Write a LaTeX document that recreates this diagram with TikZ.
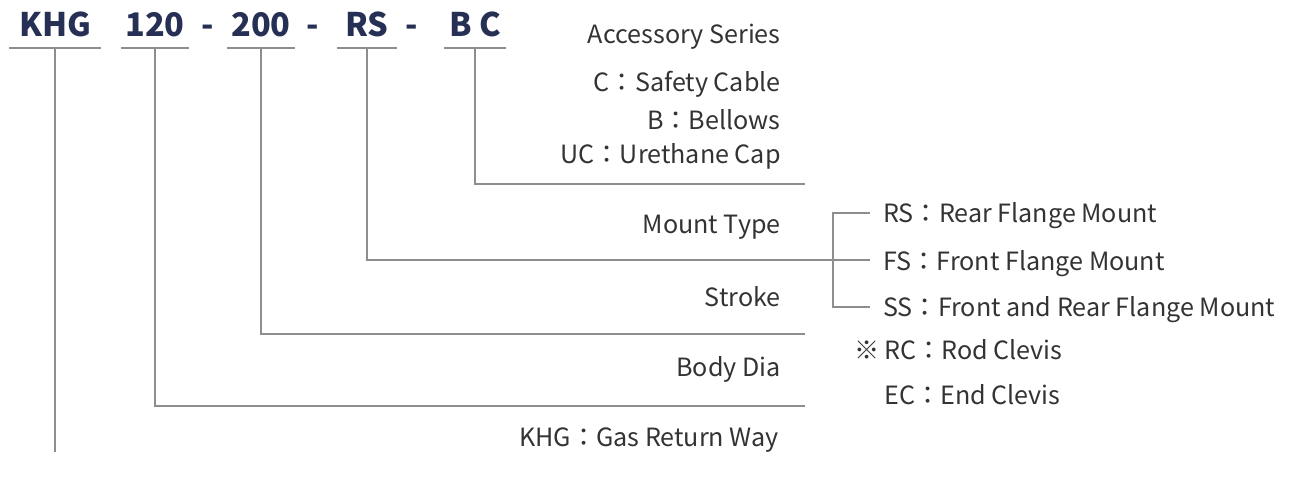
\documentclass[tikz,border=0pt]{standalone}
\usepackage{fontspec}
\setmainfont{Noto Sans CJK KR}
\usepackage{xcolor}
\usetikzlibrary{positioning}
\definecolor{codeblue}{HTML}{262F54}
\definecolor{linegray}{HTML}{8E8E8E}
\definecolor{textgray}{HTML}{333333}

\begin{document}
\begin{tikzpicture}[x=0.02cm,y=-0.02cm,
  code/.style={font=\fontsize{18.5}{18.5}\selectfont\bfseries, text=codeblue,
    inner xsep=0pt, inner ysep=0.22cm, text depth=0pt, anchor=south},
  sep/.style={font=\fontsize{18.5}{18.5}\selectfont\bfseries, text=codeblue, inner sep=0pt, anchor=base},
  item/.style={font=\fontsize{14.3}{14.3}\selectfont, text=textgray, inner sep=0pt,
    text height=0.37cm, text depth=0pt},
  lead/.style={draw=linegray, line width=1.1pt}]

\useasboundingbox (0,0) rectangle (1295,483); % Page size

% Model code
\node[code, minimum width=1.82cm] (khg) at (55,48) {KHG}; % Series
\node[code, minimum width=1.36cm] (dia) at (155,48) {120}; % Body dia
\node[code, minimum width=1.36cm] (stroke) at (261,48) {200}; % Stroke
\node[code, minimum width=1.2cm] (mount) at (367,48) {RS}; % Mount type
\node[code, minimum width=1.22cm] (acc) at (475,48) {B C}; % Accessory
\node[sep] (dash1) at (208,37) {-};
\node[sep] (dash2) at (313,37) {-};
\node[sep] (dash3) at (412,37) {-};

% Underlines
\foreach \n in {khg,dia,stroke,mount,acc}
  \draw[lead] (\n.south west) -- (\n.south east);

% Labels on the left of the leads
\node[item, anchor=east] (acclabel) at (781,34) {Accessory Series};
\node[item, anchor=east] (cable) at (781,82) {C：Safety Cable};
\node[item, anchor=east] (bellows) at (781,120) {B：Bellows};
\node[item, anchor=east] (cap) at (781,154) {UC：Urethane Cap};
\node[item, anchor=east] (mountlabel) at (781,224) {Mount Type};
\node[item, anchor=east] (strokelabel) at (781,297) {Stroke};
\node[item, anchor=east] (dialabel) at (781,367) {Body Dia};
\node[item, anchor=east] (khglabel) at (779,437) {KHG：Gas Return Way};

% Mount options
\node[item, anchor=west] (rsitem) at (883,213) {RS：Rear Flange Mount};
\node[item, anchor=west] (fsitem) at (883,261) {FS：Front Flange Mount};
\node[item, anchor=west] (ssitem) at (883,307) {SS：Front and Rear Flange Mount};
\node[item, anchor=west] (rcitem) at (884,350) {RC：Rod Clevis};
\node[item, left=0.08cm of rcitem] (note) {※};
\node[item, anchor=west] (ecitem) at (884,395) {EC：End Clevis};

% Lead ends
\coordinate (accend) at (805,184);
\coordinate (strokeend) at (805,334);
\coordinate (diaend) at (805,406);
\coordinate (khgend) at (55,452);
\coordinate (fork) at (833,260);

% Leads
\draw[lead] (acc.south) |- (accend); % Accessory lead
\draw[lead] (mount.south) |- ([xshift=-0.26cm]fsitem.west |- fork); % Mount lead
\draw[lead] (stroke.south) |- (strokeend); % Stroke lead
\draw[lead] (dia.south) |- (diaend); % Body dia lead
\draw[lead] (khg.south) -- (khgend); % Series lead
\draw[lead] ([xshift=-0.26cm]rsitem.west) -| (fork |- ssitem.west) -- ([xshift=-0.26cm]ssitem.west); % Bracket

\end{tikzpicture}
\end{document}
